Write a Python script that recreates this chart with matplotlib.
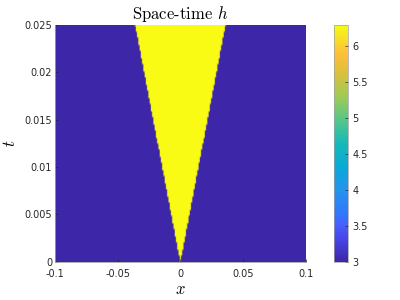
import numpy as np
import matplotlib
matplotlib.use("Agg")
import matplotlib.pyplot as plt
from matplotlib.colors import LinearSegmentedColormap

plt.rcParams["mathtext.fontset"] = "cm"

# ---------- Data -------------------------------------------------------------

x = np.linspace(-0.1, 0.1, 201)
t = np.linspace(0.0, 0.025, 126)

# front of the yellow region (half-width vs t)
front_t = [0.0, 0.025]
front_x = [0.0, 0.036]

h_outside = 3.0
h_inside = 6.3

x_ticks = [-0.1, -0.05, 0, 0.05, 0.1]
x_labels = ["-0.1", "-0.05", "0", "0.05", "0.1"]
t_ticks = [0, 0.005, 0.01, 0.015, 0.02, 0.025]
t_labels = ["0", "0.005", "0.01", "0.015", "0.02", "0.025"]
cb_ticks = [3, 3.5, 4, 4.5, 5, 5.5, 6]
cb_labels = ["3", "3.5", "4", "4.5", "5", "5.5", "6"]

half = np.interp(t, front_t, front_x)
H = np.where(np.abs(x)[None, :] <= half[:, None] + 1e-12, h_inside, h_outside)

# ---------- Colormap (parula-like) -------------------------------------------

parula_pts = [
    (0.00, (0.2422, 0.1504, 0.6603)),
    (0.10, (0.2760, 0.2764, 0.9175)),
    (0.16, (0.2691, 0.3833, 0.9910)),
    (0.20, (0.1986, 0.4662, 0.9879)),
    (0.30, (0.1372, 0.5782, 0.9240)),
    (0.40, (0.0432, 0.6629, 0.8436)),
    (0.50, (0.0855, 0.7234, 0.7197)),
    (0.60, (0.3341, 0.7780, 0.5350)),
    (0.70, (0.6275, 0.7905, 0.3322)),
    (0.80, (0.8620, 0.7524, 0.2313)),
    (0.88, (0.9940, 0.7459, 0.2346)),
    (0.95, (0.9616, 0.8870, 0.1512)),
    (1.00, (0.9769, 0.9839, 0.0805)),
]
parula = LinearSegmentedColormap.from_list("parula", parula_pts)

# ---------- Plot -------------------------------------------------------------

fig = plt.figure(figsize=(4, 3), dpi=100)
ax = fig.add_axes([0.1375, 0.127, 0.6275, 0.79])
cax = fig.add_axes([0.835, 0.127, 0.035, 0.79])

mesh = ax.pcolormesh(x, t, H, cmap=parula, shading="gouraud",
                     vmin=h_outside, vmax=h_inside, rasterized=True)
ax.set_xlim(-0.1, 0.1)
ax.set_ylim(0, 0.025)

tick_col = "#262626"
ax.set_xticks(x_ticks, x_labels)
ax.set_yticks(t_ticks, t_labels)
ax.tick_params(direction="in", length=2.5, width=0.5, labelsize=7,
               colors=tick_col, labelcolor=tick_col, pad=2)
ax.tick_params(axis="x", pad=5)
for s in ("top", "right"):
    ax.spines[s].set_visible(False)
for s in ("left", "bottom"):
    ax.spines[s].set_color("#a0a0a0")
    ax.spines[s].set_linewidth(0.6)

ax.set_xlabel("$x$", fontsize=12, labelpad=1)
ax.set_ylabel("$t$", fontsize=12, labelpad=4)
ax.set_title("Space-time $h$", fontsize=12, family="cmr10", pad=4)

cb = fig.colorbar(mesh, cax=cax)
cb.set_ticks(cb_ticks, labels=cb_labels)
cb.ax.tick_params(direction="in", length=2.5, width=0.5, labelsize=7,
                  colors=tick_col, labelcolor=tick_col, pad=3)
cb.outline.set_linewidth(0.5)
cb.outline.set_edgecolor("#a0a0a0")

fig.savefig("out.png", dpi=100)
